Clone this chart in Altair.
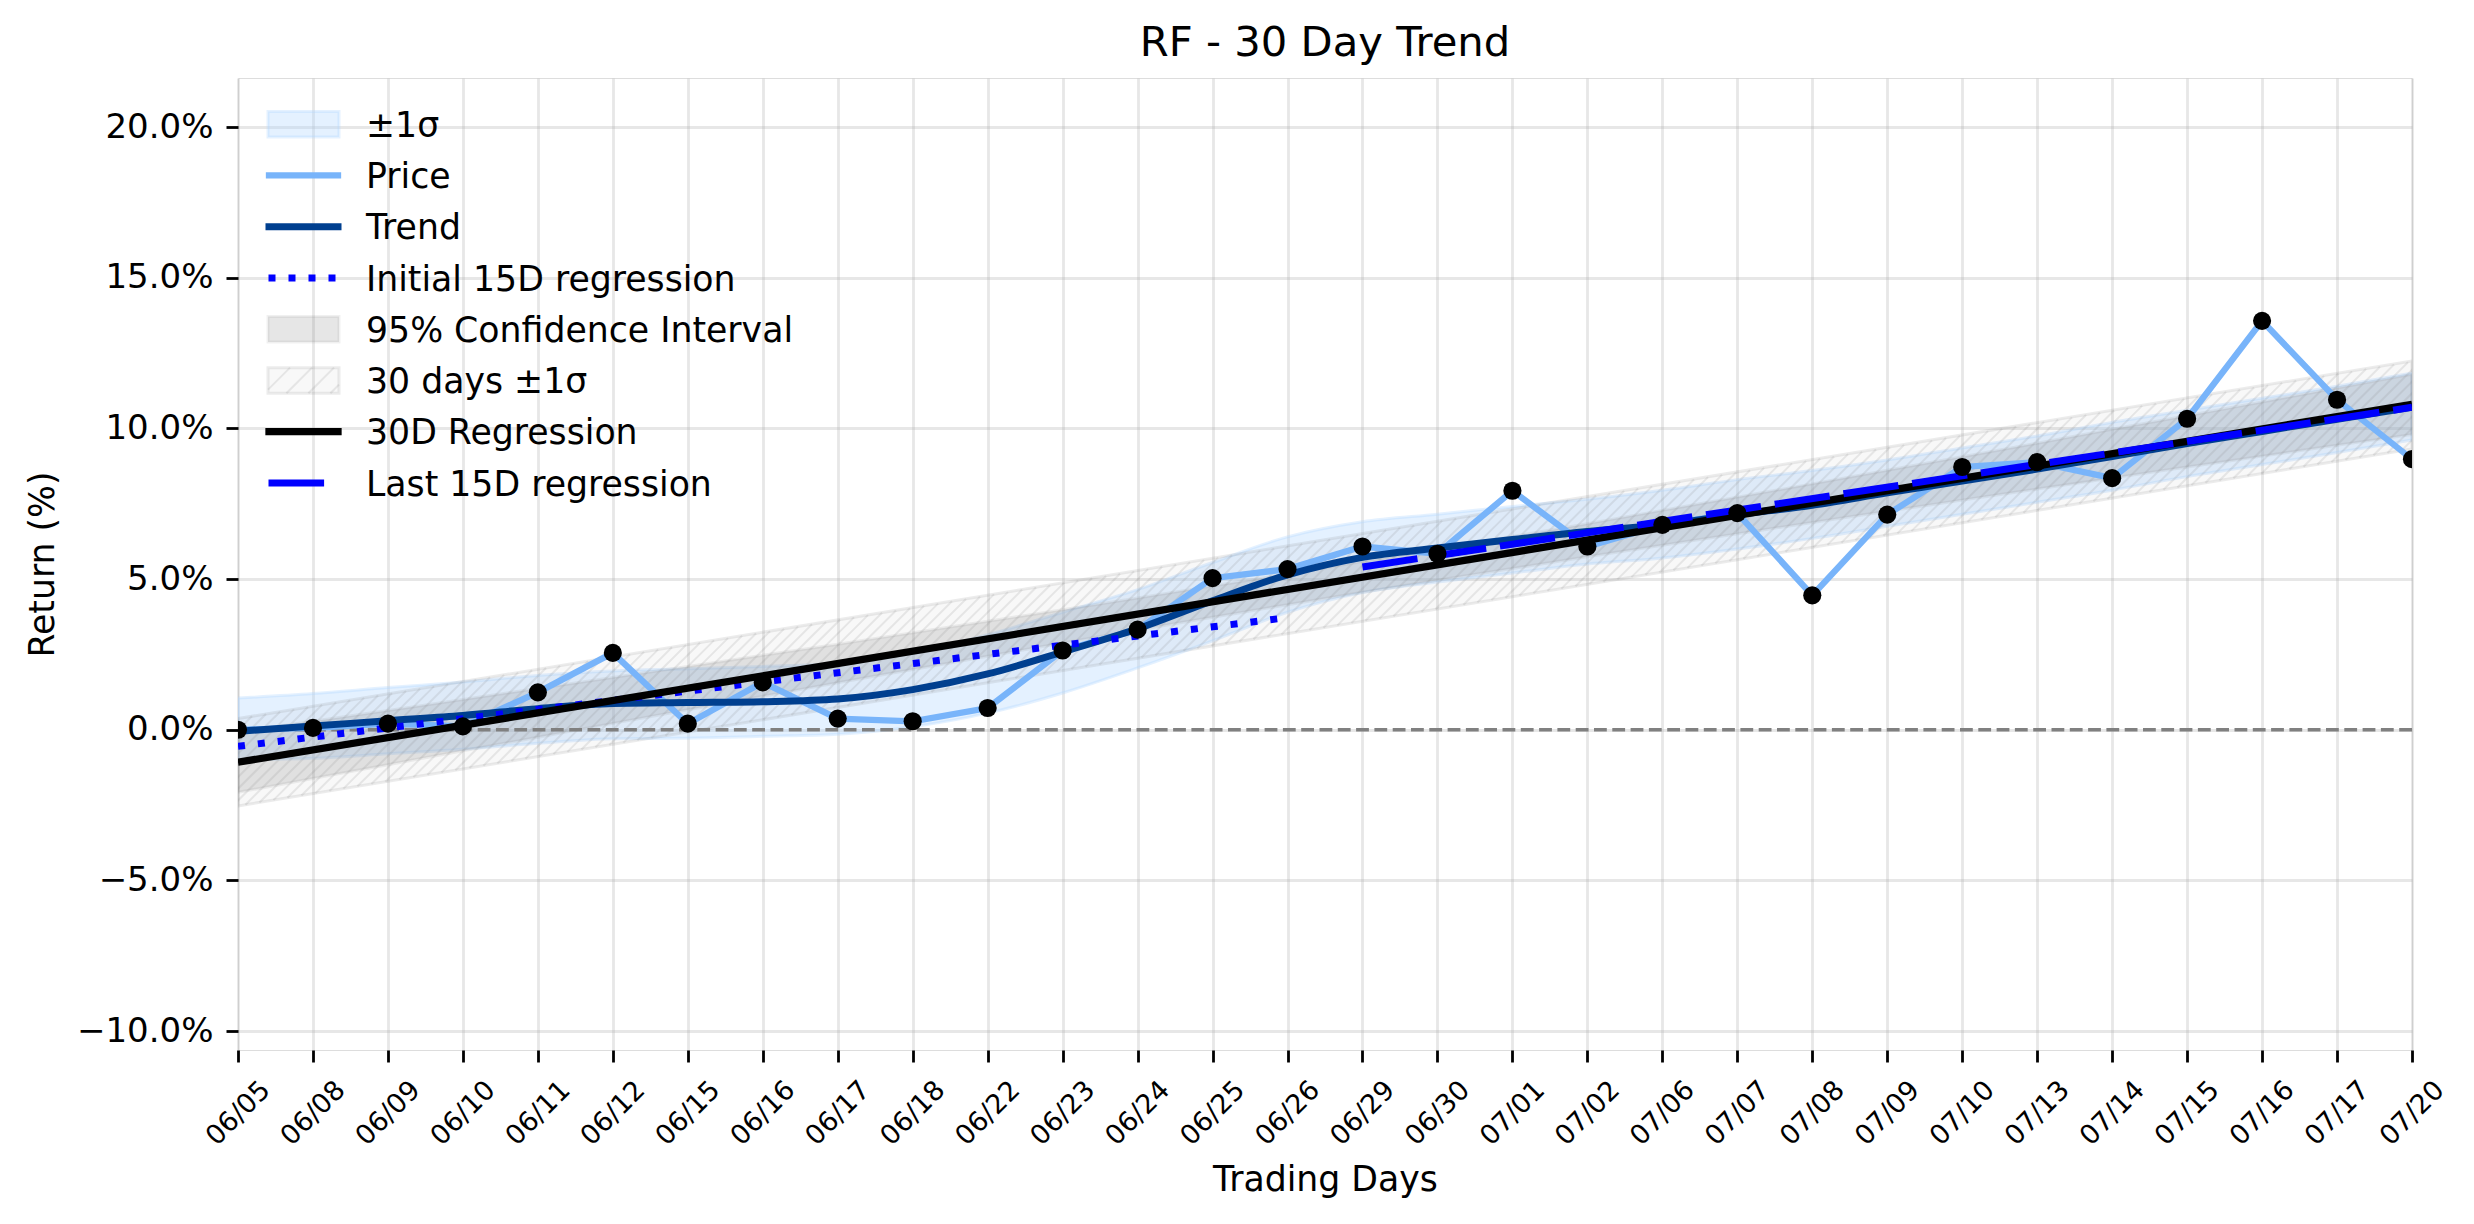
import altair as alt
import numpy as np
import pandas as pd

# ---------------- data ----------------
DATES = ["06/05", "06/08", "06/09", "06/10", "06/11", "06/12", "06/15", "06/16", "06/17", "06/18",
         "06/22", "06/23", "06/24", "06/25", "06/26", "06/29", "06/30", "07/01", "07/02", "07/06",
         "07/07", "07/08", "07/09", "07/10", "07/13", "07/14", "07/15", "07/16", "07/17", "07/20"]
PRICE = [0.00, 0.06, 0.20, 0.11, 1.24, 2.55, 0.20, 1.57, 0.37, 0.28,
         0.72, 2.63, 3.32, 5.03, 5.33, 6.08, 5.84, 7.93, 6.08, 6.80,
         7.19, 4.46, 7.14, 8.72, 8.88, 8.35, 10.32, 13.57, 10.95, 8.98]
TREND = [-0.05, 0.12, 0.30, 0.47, 0.70, 0.87, 0.90, 0.93, 1.02, 1.33,
         1.85, 2.58, 3.35, 4.28, 5.14, 5.72, 6.03, 6.31, 6.58, 6.80,
         7.14, 7.45, 7.86, 8.25, 8.65, 9.07, 9.50, 9.90, 10.30, 10.70]
BAND_LO = [-1.00, -0.95, -0.80, -0.65, -0.45, -0.30, -0.28, -0.22, -0.15, 0.10,
           0.55, 1.22, 2.05, 2.95, 3.90, 4.55, 4.90, 5.20, 5.50, 5.70,
           6.00, 6.35, 6.75, 7.15, 7.55, 7.95, 8.40, 8.80, 9.20, 9.62]
BAND_HI = [1.05, 1.20, 1.40, 1.58, 1.80, 1.95, 2.02, 2.10, 2.20, 2.55,
           3.15, 3.90, 4.65, 5.55, 6.40, 6.90, 7.15, 7.41, 7.65, 7.95,
           8.30, 8.60, 8.95, 9.35, 9.75, 10.20, 10.60, 11.00, 11.40, 11.84]
CI_LO = [-2.08, -1.62, -1.16, -0.70, -0.25, 0.21, 0.66, 1.11, 1.56, 2.00,
         2.44, 2.88, 3.31, 3.73, 4.15, 4.56, 4.96, 5.35, 5.74, 6.12,
         6.50, 6.88, 7.25, 7.62, 7.99, 8.35, 8.72, 9.08, 9.44, 9.80]
CI_HI = [-0.08, 0.28, 0.64, 1.00, 1.37, 1.73, 2.10, 2.47, 2.84, 3.22,
         3.60, 3.98, 4.37, 4.77, 5.17, 5.58, 6.00, 6.41, 6.84, 7.28,
         7.72, 8.16, 8.61, 9.06, 9.51, 9.97, 10.42, 10.88, 11.34, 11.80]
REG30_DAYS = [0, 29]
REG30 = [-1.08, 10.80]
SIG30_LO = [-2.53, 9.32]
SIG30_HI = [0.37, 12.24]
INIT15_DAYS = [0, 14]
INIT15 = [-0.55, 3.72]
LAST15_DAYS = [15, 29]
LAST15 = [5.40, 10.70]
LEGEND_LABELS = ["±1σ", "Price", "Trend", "Initial 15D regression", "95% Confidence Interval",
                 "30 days ±1σ", "30D Regression", "Last 15D regression"]
Y_TICKS = [-10, -5, 0, 5, 10, 15, 20]

# ---------------- layout / style ----------------
W, H = 2174, 972
PAD_L, PAD_T = 238, 78
Y_DOM = [-10.63, 21.63]
FONT = "DejaVu Sans"
PRICE_C = "#78b4fa"
TREND_C = "#003f8f"
BLUE_C = "#0000ff"
BAND_C = "#b3d7ff"
PX_PER_DAY = W / 29.0
PX_PER_PCT = H / (Y_DOM[1] - Y_DOM[0])

xs = alt.Scale(domain=[0, 29], nice=False, zero=False)
ys = alt.Scale(domain=Y_DOM, nice=False, zero=False)

date_arr = "[" + ",".join("'%s'" % d for d in DATES) + "]"
X_AXIS = alt.Axis(values=list(range(30)), labelExpr=date_arr + "[datum.value]",
                  labelAngle=315, labelAlign="center", labelBaseline="middle",
                  labelPadding=51, labelFontSize=27, labelFont=FONT, labelColor="black",
                  labelOverlap=False, labelFlush=False, labelBound=False,
                  tickSize=12, tickWidth=2.8, tickColor="black", domain=False,
                  grid=True, gridColor="#b0b0b0", gridOpacity=0.3, gridWidth=2.8,
                  title="Trading Days", titleFont=FONT, titleFontSize=34.7,
                  titleFontWeight="normal", titleColor="black",
                  titleX=W / 2, titleY=130, titleAlign="center", titleBaseline="middle")
Y_AXIS = alt.Axis(values=Y_TICKS,
                  labelExpr="replace(format(datum.value, '.1f'), '-', '\u2212') + '%'",
                  labelFontSize=34, labelFont=FONT, labelColor="black", labelPadding=13,
                  labelOverlap=False, labelFlush=False, labelBound=False,
                  tickSize=12, tickWidth=2.8, tickColor="black", domain=False,
                  grid=True, gridColor="#b0b0b0", gridOpacity=0.3, gridWidth=2.8,
                  title="Return (%)", titleFont=FONT, titleFontSize=34.7,
                  titleFontWeight="normal", titleColor="black", titleAngle=270,
                  titleX=-195, titleY=H / 2, titleAlign="center", titleBaseline="middle")


def X(f):
    return alt.X(f + ":Q", scale=xs, axis=X_AXIS)


def Y(f):
    return alt.Y(f + ":Q", scale=ys, axis=Y_AXIS)


main = pd.DataFrame({"day": list(range(30)), "price": PRICE, "trend": TREND,
                     "blo": BAND_LO, "bhi": BAND_HI, "clo": CI_LO, "chi": CI_HI})
reg = pd.DataFrame({"day": REG30_DAYS, "reg": REG30, "slo": SIG30_LO, "shi": SIG30_HI})
init = pd.DataFrame({"day": INIT15_DAYS, "v": INIT15})
last = pd.DataFrame({"day": LAST15_DAYS, "v": LAST15})

# hatch segments ('///') inside the 30-day ±1σ band, at 45 degrees on screen
HATCH_PX = 14.0
s_lo = (SIG30_LO[1] - SIG30_LO[0]) / 29.0
band_w = SIG30_HI[0] - SIG30_LO[0]
r45 = PX_PER_DAY / PX_PER_PCT
dd = band_w / (r45 - s_lo)
step = HATCH_PX / PX_PER_DAY
x0s = np.arange(-dd, 29 + step, step)
hatch = pd.DataFrame({"x": x0s, "y": SIG30_LO[0] + s_lo * x0s,
                      "x2": x0s + dd, "y2": SIG30_LO[0] + s_lo * x0s + r45 * dd})

band = alt.Chart(main).mark_area(fill=BAND_C, fillOpacity=0.35, stroke=BAND_C, strokeOpacity=0.35,
                                 strokeWidth=3, interpolate="monotone", clip=True).encode(
    x=X("day"), y=Y("blo"), y2="bhi")
ci = alt.Chart(main).mark_area(fill="#808080", fillOpacity=0.2, stroke="#808080", strokeOpacity=0.12,
                               strokeWidth=3, interpolate="monotone", clip=True).encode(
    x=X("day"), y=Y("clo"), y2="chi")
sig = alt.Chart(reg).mark_area(fill="#808080", fillOpacity=0.06, stroke="#808080", strokeOpacity=0.15,
                               strokeWidth=3, clip=True).encode(
    x=X("day"), y=Y("slo"), y2="shi")
hatch_l = alt.Chart(hatch).mark_rule(color="#808080", opacity=0.16, strokeWidth=2, clip=True).encode(
    x=X("x"), y=Y("y"), x2="x2", y2="y2")
zero = alt.Chart(pd.DataFrame({"z": [0]})).mark_rule(color="#808080", strokeWidth=3.5,
                                                     strokeDash=[12.8, 5.5]).encode(y=Y("z"))
price = alt.Chart(main).mark_line(color=PRICE_C, strokeWidth=6.3, clip=True).encode(x=X("day"), y=Y("price"))
trend = alt.Chart(main).mark_line(color=TREND_C, strokeWidth=7, interpolate="monotone",
                                  clip=True).encode(x=X("day"), y=Y("trend"))
init_l = alt.Chart(init).mark_line(color=BLUE_C, strokeWidth=7, strokeDash=[7, 13], strokeCap="butt",
                                   clip=True).encode(x=X("day"), y=Y("v"))
reg_l = alt.Chart(reg).mark_line(color="black", strokeWidth=7.3, clip=True).encode(x=X("day"), y=Y("reg"))
last_l = alt.Chart(last).mark_line(color=BLUE_C, strokeWidth=7, strokeDash=[55.6, 13.9], strokeCap="butt",
                                   clip=True).encode(x=X("day"), y=Y("v"))
dots = alt.Chart(main).mark_circle(color="black", opacity=1, size=330, clip=True).encode(
    x=X("day"), y=Y("price"))

# ---------------- legend (layout in plot pixels, converted to data units) ----------------
def dx(px):
    return px / PX_PER_DAY


def dy(py):
    return Y_DOM[1] - py / PX_PER_PCT


ROW0, ROW_STEP = 46.2, 51.25
rows = [ROW0 + k * ROW_STEP for k in range(8)]
RX0, RX1, RH = 30.0, 101.0, 12.8


def rect_df(k):
    return pd.DataFrame({"x": [dx(RX0)], "x2": [dx(RX1)], "y": [dy(rows[k] - RH)], "y2": [dy(rows[k] + RH)]})


def line_df(k, x0=31.0, x1=100.0):
    return pd.DataFrame({"x": [dx(x0)], "x2": [dx(x1)], "y": [dy(rows[k])]})


leg = []
leg.append(alt.Chart(rect_df(0)).mark_rect(fill=BAND_C, fillOpacity=0.35, stroke=BAND_C,
                                           strokeOpacity=0.35, strokeWidth=3).encode(
    x=X("x"), x2="x2", y=Y("y"), y2="y2"))
leg.append(alt.Chart(rect_df(4)).mark_rect(fill="#808080", fillOpacity=0.2, stroke="#808080",
                                           strokeOpacity=0.12, strokeWidth=3).encode(
    x=X("x"), x2="x2", y=Y("y"), y2="y2"))
leg.append(alt.Chart(rect_df(5)).mark_rect(fill="#808080", fillOpacity=0.06, stroke="#808080",
                                           strokeOpacity=0.15, strokeWidth=3).encode(
    x=X("x"), x2="x2", y=Y("y"), y2="y2"))
# hatch lines in the legend swatch
segs = []
top, bot = rows[5] - RH, rows[5] + RH
for c in np.arange(RX0 - 2 * RH, RX1, 22.0):
    t0 = max(0.0, RX0 - c)
    t1 = min(2 * RH, RX1 - c)
    if t1 > t0:
        segs.append({"x": dx(c + t0), "y": dy(bot - t0), "x2": dx(c + t1), "y2": dy(bot - t1)})
leg.append(alt.Chart(pd.DataFrame(segs)).mark_rule(color="#808080", opacity=0.16, strokeWidth=2).encode(
    x=X("x"), y=Y("y"), x2="x2", y2="y2"))
leg.append(alt.Chart(line_df(1)).mark_rule(color=PRICE_C, strokeWidth=6.3, strokeCap="square").encode(
    x=X("x"), x2="x2", y=Y("y")))
leg.append(alt.Chart(line_df(2)).mark_rule(color=TREND_C, strokeWidth=7, strokeCap="square").encode(
    x=X("x"), x2="x2", y=Y("y")))
leg.append(alt.Chart(line_df(3, 30.5, 100.5)).mark_rule(color=BLUE_C, strokeWidth=7, strokeDash=[7, 13],
                                                       strokeCap="butt").encode(
    x=X("x"), x2="x2", y=Y("y")))
leg.append(alt.Chart(line_df(6)).mark_rule(color="black", strokeWidth=7.3, strokeCap="square").encode(
    x=X("x"), x2="x2", y=Y("y")))
leg.append(alt.Chart(line_df(7, 30.5, 99.0)).mark_rule(color=BLUE_C, strokeWidth=7, strokeDash=[55.6, 13.9],
                                                      strokeCap="butt").encode(
    x=X("x"), x2="x2", y=Y("y")))
txt = pd.DataFrame({"x": [dx(128.0)] * 8, "y": [dy(r + 12.7) for r in rows], "label": LEGEND_LABELS})
leg.append(alt.Chart(txt).mark_text(align="left", baseline="alphabetic", font=FONT, fontSize=34.7,
                                    color="black").encode(x=X("x"), y=Y("y"), text="label:N"))

chart = alt.layer(band, ci, sig, hatch_l, zero, price, trend, init_l, reg_l, last_l, dots, *leg).properties(
    width=W, height=H,
    autosize=alt.AutoSizeParams(type="none"),
    padding={"left": PAD_L, "top": PAD_T, "right": 2474 - PAD_L - W, "bottom": 1224 - PAD_T - H},
    title=alt.TitleParams("RF - 30 Day Trend", font=FONT, fontSize=41.7, fontWeight="normal",
                          color="black", anchor="middle", offset=20, baseline="alphabetic", dy=40),
).configure_view(stroke="black", strokeWidth=2.8).configure(background="white")

chart.save("out.html", embed_options={"renderer": "svg", "actions": False})
